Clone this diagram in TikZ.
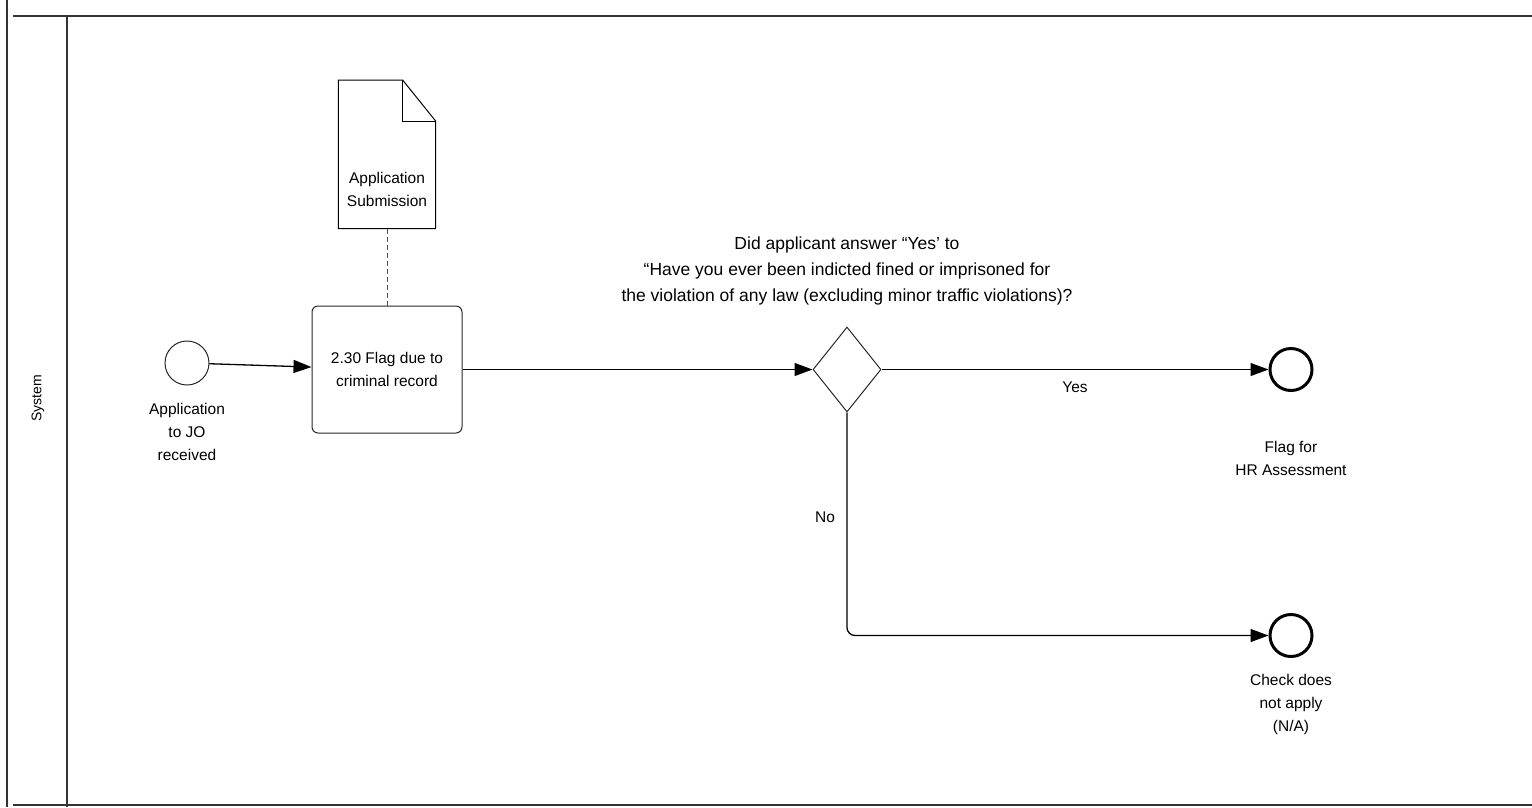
\documentclass[tikz,border=0pt]{standalone}
\usepackage{fontspec}
\setmainfont{Liberation Sans}
\usetikzlibrary{positioning, arrows.meta, shapes}

\begin{document}
\begin{tikzpicture}[
    x=1pt, y=-1pt,
    node distance=20pt and 40pt,
    lbl/.style={font=\fontsize{15.5}{23}\selectfont, align=center},
    qlbl/.style={font=\fontsize{17.5}{26}\selectfont, align=center},
    lane/.style={draw=black!80, line width=1.6pt},
    event/.style={circle, draw=black!85, line width=1pt, minimum size=44pt, inner sep=0pt},
    endevent/.style={event, draw=black, line width=3pt, minimum size=42pt},
    task/.style={lbl, draw=black!85, line width=1pt, rounded corners=6pt, minimum width=150pt, minimum height=127pt},
    docshape/.style={minimum width=97pt, minimum height=148pt, inner sep=0pt},
    gateway/.style={diamond, draw=black!85, line width=1pt, minimum width=68pt, minimum height=85pt, inner sep=0pt},
    flow/.style={-{Triangle[length=18pt, width=13pt]}, line width=1.3pt},
    assoc/.style={dash pattern=on 5pt off 3pt, draw=black!70, line width=1pt}
]
\useasboundingbox (0,0) rectangle (1532,807);

% pool and lane
\draw[lane] (7,0) -- (7,807);
\draw[lane] (13,16) -- (1532,16);
\draw[lane] (67,16) -- (67,807);
\draw[lane] (13,805) -- (1532,805);
\node[font=\fontsize{14}{17}\selectfont, rotate=90] (lanename) at (38,398) {System};

% task and its data object
\node[task] (flag) at (387,369.5) {2.30 Flag due to\\criminal record};
\node[event, left=102pt of flag, yshift=6.5pt] (start) {};
\node[lbl, below=14pt of start] (startlbl) {Application\\to JO\\received};

\node[docshape, above=77pt of flag] (appdoc) {};
\draw[line width=1pt] (appdoc.south west) -- (appdoc.north west) -- ([xshift=-33pt]appdoc.north east)
    -- ([yshift=-41pt]appdoc.north east) -- (appdoc.south east) -- cycle;
\draw[line width=1pt] ([xshift=-33pt]appdoc.north east) |- ([yshift=-41pt]appdoc.north east);
\node[lbl] (doclbl) at ([yshift=-35pt]appdoc.center) {Application\\Submission};

% gateway and ends
\node[gateway, right=350pt of flag] (gw) {};
\node[qlbl, above=18pt of gw] (question) {Did applicant answer “Yes’ to\\“Have you ever been indicted fined or imprisoned for\\the violation of any law (excluding minor traffic violations)?};

\node[endevent, right=387pt of gw] (hrflag) {};
\node[lbl, below=46pt of hrflag] (hrlbl) {Flag for\\HR Assessment};
\node[endevent, below=221pt of hrflag] (na) {};
\node[lbl, below=13pt of na] (nalbl) {Check does\\not apply\\(N/A)};

\draw[flow] (start) -- (flag);
\draw[assoc] (appdoc) -- (flag);
\draw[flow] (flag) -- (gw);
\draw[flow] (gw) -- (hrflag) node[lbl, midway, below=8pt] (yeslbl) {Yes};
\draw[flow, rounded corners=8pt] (gw.south) |- (na.west) node[lbl, pos=0.235, left=8pt] (nolbl) {No};
\end{tikzpicture}
\end{document}
